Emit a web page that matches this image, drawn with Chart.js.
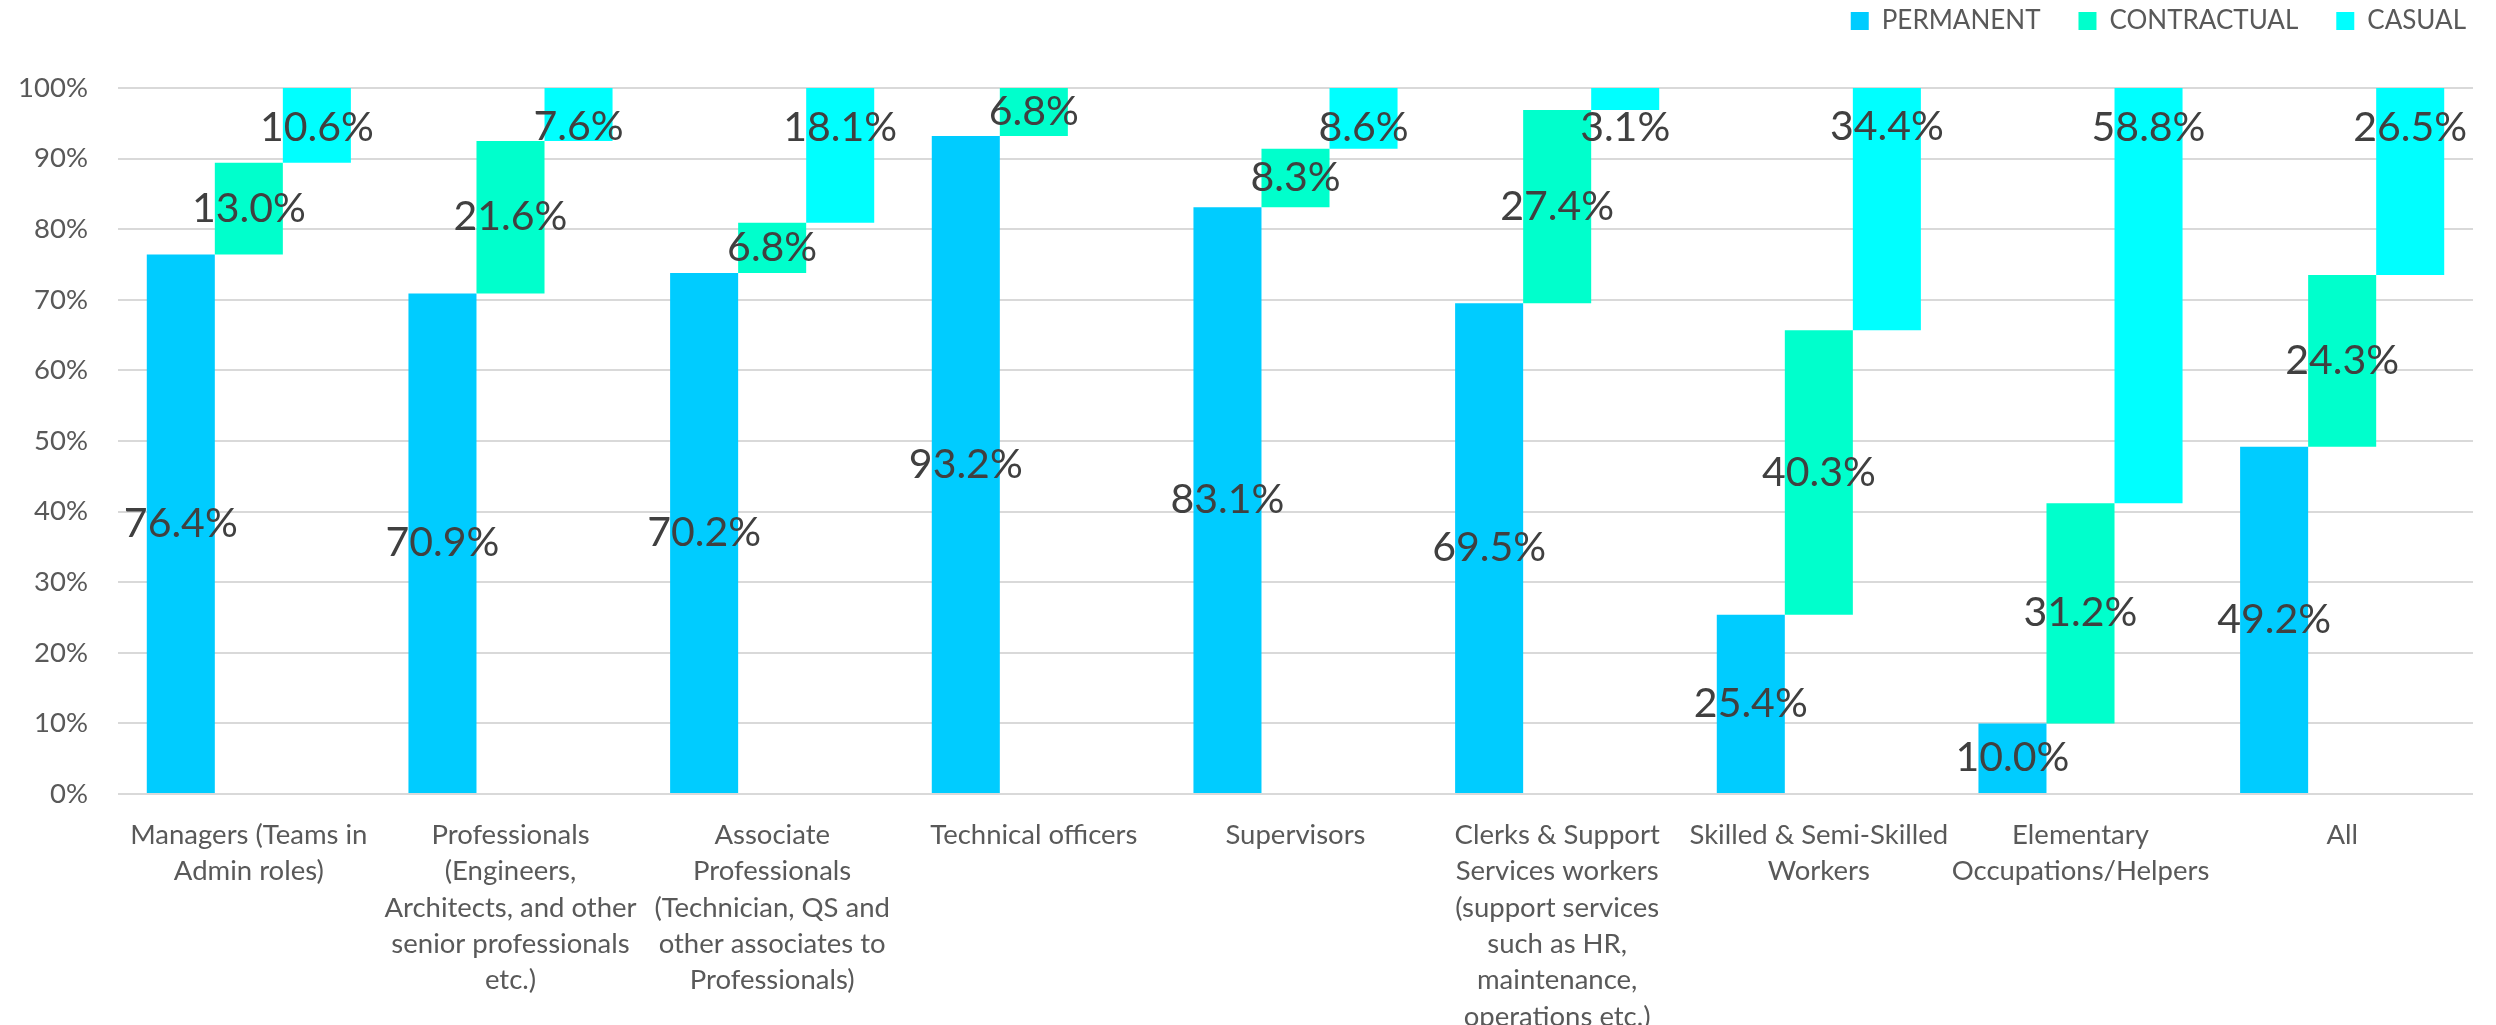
<!DOCTYPE html>
<html>
<head>
<meta charset="utf-8">
<script src="https://cdn.jsdelivr.net/npm/chart.js@4/dist/chart.umd.min.js"></script>
<style>
html,body{margin:0;padding:0;background:#ffffff;}
#wrap{width:2496px;height:1025px;}
</style>
</head>
<body>
<div id="wrap"><canvas id="c" width="2496" height="1025"></canvas></div>
<script>
// ---- data ----
const categories = [
  ["Managers (Teams in", "Admin roles)"],
  ["Professionals", "(Engineers,", "Architects, and other", "senior professionals", "etc.)"],
  ["Associate", "Professionals", "(Technician, QS and", "other associates to", "Professionals)"],
  ["Technical officers"],
  ["Supervisors"],
  ["Clerks & Support", "Services workers", "(support services", "such as HR,", "maintenance,", "operations etc.)"],
  ["Skilled & Semi-Skilled", "Workers"],
  ["Elementary", "Occupations/Helpers"],
  ["All"]
];
const seriesNames = ["PERMANENT", "CONTRACTUAL", "CASUAL"];
// bar sizes as drawn (percentage points)
const permanent   = [76.4, 70.9, 73.8, 93.2, 83.1, 69.5, 25.4, 10.0, 49.2];
const contractual = [13.0, 21.6,  7.1,  6.8,  8.3, 27.4, 40.3, 31.2, 24.3];
const casual      = [10.6,  7.6, 19.1,  0.0,  8.6,  3.1, 34.4, 58.8, 26.5];
// data label texts as printed
const permanentLabels   = ["76.4%", "70.9%", "70.2%", "93.2%", "83.1%", "69.5%", "25.4%", "10.0%", "49.2%"];
const contractualLabels = ["13.0%", "21.6%", "6.8%", "6.8%", "8.3%", "27.4%", "40.3%", "31.2%", "24.3%"];
const casualLabels      = ["10.6%", "7.6%", "18.1%", "", "8.6%", "3.1%", "34.4%", "58.8%", "26.5%"];
const yTicks = [0, 10, 20, 30, 40, 50, 60, 70, 80, 90, 100];

// ---- styling ----
const FONT = "Lato, 'Open Sans', sans-serif";
const LABEL_SIZE = 41;
const TEXT_SIZE = 27.5;
const LEGEND_SIZE = 26;
const COLORS = ["#00CCFF", "#00FFCC", "#00FFFF"];

// floating ranges built from the series
const contrRanges = permanent.map((p, i) => [p, p + contractual[i]]);
const casualRanges = permanent.map((p, i) => [p + contractual[i], p + contractual[i] + casual[i]]);

const barLabels = {
  id: 'barLabels',
  afterDatasetsDraw(chart) {
    const ctx = chart.ctx;
    ctx.save();
    ctx.font = LABEL_SIZE + 'px ' + FONT;
    ctx.fillStyle = '#404040';
    ctx.textAlign = 'center';
    ctx.textBaseline = 'middle';
    chart.data.datasets.forEach((ds, di) => {
      const meta = chart.getDatasetMeta(di);
      meta.data.forEach((el, i) => {
        const txt = ds.valueLabels[i];
        if (!txt) return;
        const p = el.getProps(['x', 'y', 'base'], true);
        let ty;
        if (ds.labelPos === 'insideEnd') ty = Math.min(p.y, p.base) + LABEL_SIZE * 0.96;
        else ty = (p.y + p.base) / 2;
        ctx.fillText(txt, p.x, ty);
      });
    });
    ctx.restore();
  }
};

const LEG_PAD = 38;
const legendPlace = {
  id: 'legendPlace',
  beforeUpdate(chart) {
    const lg = chart.legend;
    if (lg && !lg._patched) {
      const f = lg.fit;
      lg.fit = function () { f.call(this); this.height = 88; };
      lg._patched = true;
    }
  },
  afterLayout(chart) {
    const lg = chart.legend;
    if (!lg) return;
    const dx = 2466 - (lg.right - LEG_PAD);
    lg.left += dx; lg.right += dx;
    const dy = (21 - LEGEND_SIZE / 2 - LEG_PAD) - lg.top;
    lg.top += dy; lg.bottom += dy;
  }
};

new Chart(document.getElementById('c'), {
  type: 'bar',
  data: {
    labels: categories,
    datasets: [
      { label: seriesNames[0], data: permanent, backgroundColor: COLORS[0], borderWidth: 0, valueLabels: permanentLabels, labelPos: 'center' },
      { label: seriesNames[1], data: contrRanges, backgroundColor: COLORS[1], borderWidth: 0, valueLabels: contractualLabels, labelPos: 'center' },
      { label: seriesNames[2], data: casualRanges, backgroundColor: COLORS[2], borderWidth: 0, valueLabels: casualLabels, labelPos: 'insideEnd' }
    ]
  },
  options: {
    responsive: false,
    animation: false,
    devicePixelRatio: 1,
    layout: { padding: { left: 0, right: 23, top: 0, bottom: 0 } },
    datasets: { bar: { categoryPercentage: 0.78, barPercentage: 1.0 } },
    plugins: {
      legend: {
        position: 'top', align: 'end',
        labels: { boxWidth: 18, boxHeight: 18, padding: LEG_PAD, color: '#595959', font: { family: FONT, size: LEGEND_SIZE } }
      },
      tooltip: { enabled: false }
    },
    scales: {
      x: {
        grid: { display: false },
        border: { display: false },
        ticks: { color: '#595959', font: { family: FONT, size: TEXT_SIZE, lineHeight: 1.32 }, padding: 15, autoSkip: false, maxRotation: 0, minRotation: 0 },
        afterFit(s) { s.height = 231; }
      },
      y: {
        min: 0, max: 100,
        afterBuildTicks(s) { s.ticks = yTicks.map(v => ({ value: v })); },
        ticks: { callback: v => v + '%', color: '#595959', font: { family: FONT, size: TEXT_SIZE }, padding: 30 },
        grid: { color: '#d9d9d9', lineWidth: 2, drawTicks: false },
        border: { display: false },
        afterFit(s) { s.width = 118; }
      }
    }
  },
  plugins: [barLabels, legendPlace]
});
</script>
</body>
</html>
